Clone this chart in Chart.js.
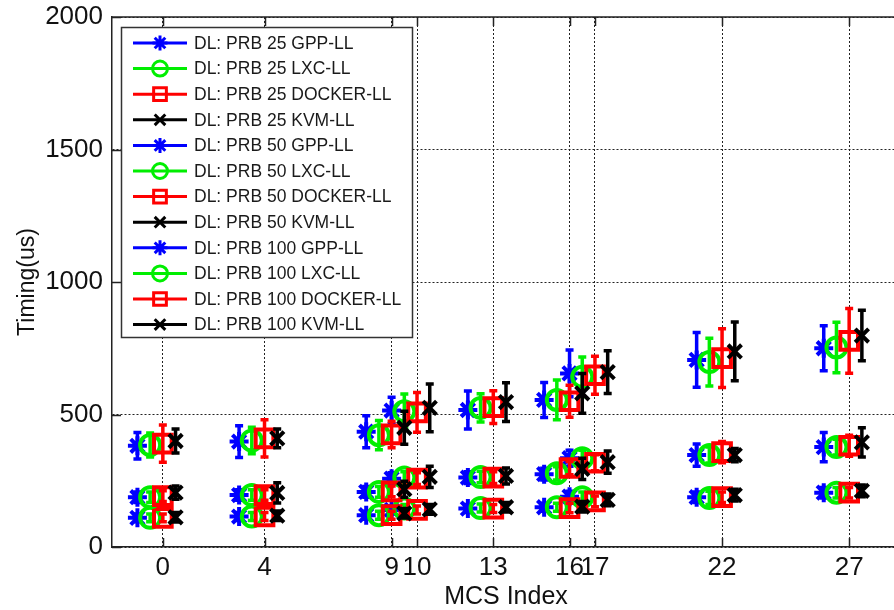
<!DOCTYPE html>
<html>
<head>
<meta charset="utf-8">
<script src="https://cdn.jsdelivr.net/npm/chart.js@4/dist/chart.umd.min.js"></script>
<style>
html, body { margin: 0; padding: 0; background: #fff; overflow: hidden; }
#wrap { width: 930px; height: 610px; }
canvas { display: block; }
</style>
</head>
<body>
<div id="wrap"><canvas id="chart" width="930" height="610"></canvas></div>
<script>
// x axis: MCS index
const mcsIndex = [0, 4, 9, 10, 13, 16, 17, 22, 27];
const prbSizes = [25, 50, 100];
const platforms = ['GPP', 'LXC', 'DOCKER', 'KVM'];
// each platform sits a bit left/right of its MCS index
const platformShift = [-1, -0.5, 0, 0.5];

// mean timing (us), one value per MCS index
const prb25Gpp     = [110, 115, 120, 140, 145, 150, 190, 188, 205];
const prb25Lxc     = [110, 115, 120, 145, 147, 150, 188, 185, 205];
const prb25Docker  = [110, 115, 120, 140, 145, 147, 172, 188, 205];
const prb25Kvm     = [112, 118, 127, 142, 150, 152, 178, 196, 212];
const prb50Gpp     = [188, 196, 208, 258, 262, 275, 335, 347, 377];
const prb50Lxc     = [188, 196, 208, 262, 264, 278, 335, 347, 377];
const prb50Docker  = [192, 196, 210, 258, 262, 298, 318, 358, 382];
const prb50Kvm     = [205, 204, 218, 265, 268, 295, 320, 347, 395];
const prb100Gpp    = [382, 398, 435, 515, 517, 555, 655, 706, 750];
const prb100Lxc    = [385, 402, 422, 512, 525, 555, 642, 698, 753];
const prb100Docker = [390, 410, 425, 508, 528, 550, 648, 713, 778];
const prb100Kvm    = [400, 410, 450, 525, 547, 580, 660, 738, 798];

// error bar half-length (us)
const prb25GppErr     = [15, 15, 15, 15, 15, 15, 20, 20, 20];
const prb25LxcErr     = [15, 15, 15, 15, 15, 15, 20, 25, 20];
const prb25DockerErr  = [15, 15, 15, 15, 15, 18, 20, 20, 20];
const prb25KvmErr     = [18, 18, 18, 18, 18, 20, 22, 22, 22];
const prb50GppErr     = [20, 20, 20, 22, 22, 22, 30, 42, 55];
const prb50LxcErr     = [20, 20, 20, 22, 22, 25, 30, 30, 30];
const prb50DockerErr  = [20, 20, 20, 22, 22, 25, 30, 40, 40];
const prb50KvmErr     = [25, 38, 30, 40, 30, 40, 42, 25, 55];
const prb100GppErr    = [50, 60, 60, 50, 72, 66, 88, 103, 85];
const prb100LxcErr    = [45, 50, 55, 65, 53, 75, 75, 90, 95];
const prb100DockerErr = [70, 70, 50, 75, 62, 60, 72, 111, 122];
const prb100KvmErr    = [45, 35, 62, 90, 73, 75, 81, 111, 95];

const yTicks = [0, 500, 1000, 1500, 2000];

const means = [
  [prb25Gpp, prb25Lxc, prb25Docker, prb25Kvm],
  [prb50Gpp, prb50Lxc, prb50Docker, prb50Kvm],
  [prb100Gpp, prb100Lxc, prb100Docker, prb100Kvm]
];
const errs = [
  [prb25GppErr, prb25LxcErr, prb25DockerErr, prb25KvmErr],
  [prb50GppErr, prb50LxcErr, prb50DockerErr, prb50KvmErr],
  [prb100GppErr, prb100LxcErr, prb100DockerErr, prb100KvmErr]
];

const colors = ['#0000ff', '#00ee00', '#ff0000', '#000000'];
const markers = ['star', 'circle', 'rect', 'crossRot'];
const radii = [9.5, 10, 12.5, 9.5];

const FONT = '"Liberation Sans", Arial, sans-serif';

const datasets = [];
prbSizes.forEach((prb, p) => {
  platforms.forEach((plat, k) => {
    datasets.push({
      label: `DL: PRB ${prb} ${plat}-LL`,
      data: mcsIndex.map((m, j) => ({ x: m + platformShift[k], y: means[p][k][j] })),
      err: errs[p][k],
      showLine: false,
      borderColor: colors[k],
      backgroundColor: 'rgba(0,0,0,0)',
      pointStyle: markers[k],
      pointRadius: radii[k],
      pointHoverRadius: radii[k],
      pointBorderWidth: 4,
      order: 100 - datasets.length
    });
  });
});

const errorBars = {
  id: 'errorBars',
  beforeDatasetDraw(chart, args) {
    const ds = chart.data.datasets[args.index];
    const y = chart.scales.y;
    const ctx = chart.ctx;
    ctx.save();
    ctx.strokeStyle = ds.borderColor;
    ctx.lineWidth = 3.5;
    args.meta.data.forEach((pt, j) => {
      const v = ds.data[j].y, e = ds.err[j];
      const top = y.getPixelForValue(v + e), bot = y.getPixelForValue(v - e);
      ctx.beginPath();
      ctx.moveTo(pt.x, top); ctx.lineTo(pt.x, bot);
      ctx.moveTo(pt.x - 4, top); ctx.lineTo(pt.x + 4, top);
      ctx.moveTo(pt.x - 4, bot); ctx.lineTo(pt.x + 4, bot);
      ctx.stroke();
    });
    ctx.restore();
  }
};

// matlab style box: top edge and inward tick marks
const frame = {
  id: 'frame',
  afterDraw(chart) {
    const { ctx, chartArea: a, scales } = chart;
    ctx.save();
    ctx.strokeStyle = '#222';
    ctx.lineWidth = 1.5;
    ctx.beginPath();
    ctx.moveTo(a.left, a.top); ctx.lineTo(a.right, a.top);
    scales.x.ticks.forEach(t => {
      const px = Math.round(scales.x.getPixelForValue(t.value)) + 0.5;
      ctx.moveTo(px, a.bottom); ctx.lineTo(px, a.bottom - 9);
      ctx.moveTo(px, a.top); ctx.lineTo(px, a.top + 9);
    });
    scales.y.ticks.forEach(t => {
      const py = Math.round(scales.y.getPixelForValue(t.value)) + 0.5;
      ctx.moveTo(a.left, py); ctx.lineTo(a.left + 9, py);
    });
    ctx.stroke();
    ctx.restore();
  }
};

// boxed legend in the upper left, line + marker per entry
const boxLegend = {
  id: 'boxLegend',
  afterDraw(chart) {
    const { ctx, chartArea: a } = chart;
    const dsets = chart.data.datasets;
    const left = a.left + 9, top = a.top + 10, w = 291, h = 310;
    const rowH = 25.6;
    ctx.save();
    ctx.fillStyle = '#fff';
    ctx.fillRect(left, top, w, h);
    ctx.strokeStyle = '#333';
    ctx.lineWidth = 1.5;
    ctx.strokeRect(left + 0.5, top + 0.5, w, h);
    ctx.font = '17.5px ' + FONT;
    ctx.textBaseline = 'middle';
    ctx.textAlign = 'left';
    dsets.forEach((ds, i) => {
      const cy = top + 16 + i * rowH;
      ctx.strokeStyle = ds.borderColor;
      ctx.lineWidth = 3;
      ctx.beginPath();
      ctx.moveTo(left + 12, cy); ctx.lineTo(left + 66, cy);
      ctx.stroke();
      ctx.fillStyle = 'rgba(0,0,0,0)';
      ctx.lineWidth = 3;
      Chart.helpers.drawPoint(ctx, {
        pointStyle: ds.pointStyle, rotation: 0,
        radius: ds.pointStyle === 'rect' ? 9 : 7.5, borderWidth: 3
      }, left + 39, cy);
      ctx.fillStyle = '#1a1a1a';
      ctx.fillText(ds.label, left + 73, cy + 1);
    });
    ctx.restore();
  }
};

new Chart(document.getElementById('chart'), {
  type: 'scatter',
  data: { datasets },
  options: {
    responsive: false,
    animation: false,
    devicePixelRatio: 1,
    layout: { padding: { left: 0, top: 17, right: 30, bottom: 0 } },
    plugins: { legend: { display: false }, tooltip: { enabled: false } },
    scales: {
      x: {
        type: 'linear', min: -2, max: 29,
        afterBuildTicks: s => { s.ticks = mcsIndex.map(v => ({ value: v })); },
        afterFit: s => { s.height = 63; s.paddingLeft = 0; s.paddingRight = 0; },
        ticks: { autoSkip: false, maxRotation: 0, padding: 5, color: '#111',
                 font: { family: FONT, size: 26 }, callback: v => String(v) },
        grid: { color: '#222', lineWidth: 1, drawTicks: false },
        border: { display: true, color: '#222', width: 1.5, dash: [2, 2] },
        title: { display: true, text: 'MCS Index', color: '#111',
                 font: { family: FONT, size: 25, lineHeight: 1 }, padding: { top: 0, bottom: 0 } }
      },
      y: {
        min: 0, max: 2000,
        afterBuildTicks: s => { s.ticks = yTicks.map(v => ({ value: v })); },
        afterFit: s => { s.width = 112; s.paddingTop = 0; s.paddingBottom = 0; },
        ticks: { padding: 9, color: '#111', font: { family: FONT, size: 26 }, callback: v => String(v) },
        grid: { color: '#222', lineWidth: 1, drawTicks: false },
        border: { display: true, color: '#222', width: 1.5, dash: [2, 2] },
        title: { display: true, text: 'Timing(us)', color: '#111',
                 font: { family: FONT, size: 23, lineHeight: 1 }, padding: { top: 16, bottom: 0 } }
      }
    }
  },
  plugins: [errorBars, frame, boxLegend]
});
</script>
</body>
</html>
